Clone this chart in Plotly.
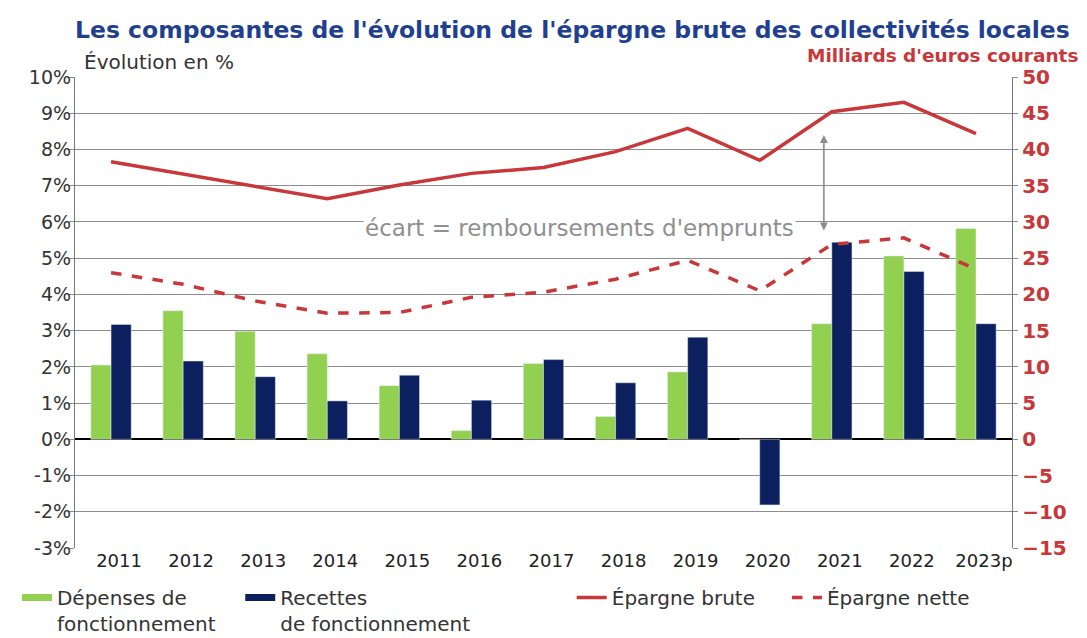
import plotly.graph_objects as go

years = ["2011", "2012", "2013", "2014", "2015", "2016", "2017", "2018", "2019", "2020", "2021", "2022", "2023p"]
depenses = [2.05, 3.55, 2.98, 2.36, 1.48, 0.24, 2.09, 0.63, 1.86, 0.0, 3.19, 5.06, 5.82]
recettes = [3.17, 2.16, 1.73, 1.06, 1.77, 1.08, 2.20, 1.56, 2.82, -1.81, 5.44, 4.63, 3.19]
epargne_brute = [38.3, 36.6, 34.9, 33.2, 35.1, 36.7, 37.5, 39.7, 42.9, 38.5, 45.2, 46.5, 42.2]
epargne_nette = [23.0, 21.4, 19.1, 17.4, 17.5, 19.6, 20.3, 22.1, 24.7, 20.5, 26.9, 27.8, 23.5]
left_ticks = list(range(-3, 11))
right_ticks = list(range(-15, 51, 5))

FONT = "DejaVu Sans, sans-serif"
GREEN = "#92d050"
NAVY = "#0c1f5e"
RED = "#c8373a"
DARK = "#333333"

fig = go.Figure()
fig.add_trace(go.Bar(x=years, y=depenses, name="Dépenses de fonctionnement",
                     marker_color=GREEN, showlegend=False))
fig.add_trace(go.Bar(x=years, y=recettes, name="Recettes de fonctionnement",
                     marker_color=NAVY, showlegend=False))
fig.add_trace(go.Scatter(x=years, y=epargne_brute, name="Épargne brute", yaxis="y2",
                         mode="lines", line=dict(color=RED, width=3.5), legend="legend3"))
fig.add_trace(go.Scatter(x=years, y=epargne_nette, name="Épargne nette", yaxis="y2",
                         mode="lines", line=dict(color=RED, width=3.5, dash="dash"),
                         legend="legend4"))
# legend swatches for the bar series (flat rectangles as in the reference)
fig.add_trace(go.Scatter(x=[None], y=[None], mode="lines", name="Dépenses de<br>fonctionnement",
                         line=dict(color=GREEN, width=7), legend="legend", hoverinfo="skip"))
fig.add_trace(go.Scatter(x=[None], y=[None], mode="lines", name="Recettes<br>de fonctionnement",
                         line=dict(color=NAVY, width=7), legend="legend2", hoverinfo="skip"))

leg_common = dict(orientation="h", xref="container", yref="container", yanchor="top",
                  y=0.094, valign="top", xanchor="left",
                  font=dict(family=FONT, size=20, color=DARK), bgcolor="rgba(0,0,0,0)",
                  itemwidth=30)
fig.update_layout(
    width=1087, height=638,
    margin=dict(l=75, r=75, t=77, b=90, autoexpand=False),
    paper_bgcolor="white", plot_bgcolor="white",
    barmode="group", bargap=0.44, bargroupgap=0.0,
    font=dict(family=FONT, color=DARK),
    title=dict(text="<b>Les composantes de l'évolution de l'épargne brute des collectivités locales</b>",
               x=0.069, xanchor="left", y=0.953, yanchor="middle", yref="container",
               font=dict(family=FONT, size=23.5, color="#1f3f8f")),
    legend=dict(x=0.0156, **leg_common),
    legend2=dict(x=0.221, **leg_common),
    legend3=dict(x=0.526, **leg_common),
    legend4=dict(x=0.724, **leg_common),
    xaxis=dict(type="category", showgrid=False, showline=False, ticks="",
               ticklabelshift=8,
               tickfont=dict(family=FONT, size=18, color="#222222")),
    yaxis=dict(range=[-3, 10], tickvals=left_ticks, ticktext=[f"{v}%" for v in left_ticks],
               showgrid=True, gridcolor="#8c8c8c", gridwidth=1.3,
               zeroline=True, zerolinecolor="#000000", zerolinewidth=2,
               showline=True, linecolor="#7a7a7a", linewidth=1.3,
               ticks="outside", ticklen=5, tickcolor="#8c8c8c",
               tickfont=dict(family=FONT, size=19, color="#333333")),
    yaxis2=dict(range=[-15, 50], tickvals=right_ticks, overlaying="y", side="right",
                showgrid=False, zeroline=False,
                showline=True, linecolor="#7a7a7a", linewidth=1.3,
                ticks="outside", ticklen=5, tickcolor="#8c8c8c",
                tickfont=dict(family=FONT, size=20, color=RED, weight="bold")),
)
try:
    fig.layout.yaxis.ticklabelstandoff = -6
except Exception:
    pass

fig.add_annotation(text="Évolution en %", xref="paper", yref="paper", x=0.007, y=1.032,
                   xanchor="left", yanchor="middle", showarrow=False,
                   font=dict(family=FONT, size=20, color=DARK))
fig.add_annotation(text="<b>Milliards d'euros courants</b>", xref="paper", yref="paper",
                   x=1.0726, y=1.046, xanchor="right", yanchor="middle", showarrow=False,
                   font=dict(family=FONT, size=18.5, color=RED))
fig.add_annotation(text="écart = remboursements d'emprunts", xref="x", yref="y",
                   x=9.5, y=5.84, xanchor="right", yanchor="middle", showarrow=False,
                   bgcolor="white", font=dict(family=FONT, size=23, color="#8f8f8f"))
fig.add_annotation(text="", xref="x", yref="y2", x=9.89, y=28.8, axref="x", ayref="y2",
                   ax=9.89, ay=42.2, showarrow=True, arrowside="end+start", arrowhead=2,
                   startarrowhead=2, arrowsize=1, arrowwidth=1.6, arrowcolor="#8c8c8c")

fig.write_html("out.html", config={"displayModeBar": False},
               post_script="document.body.style.margin='0px';")
